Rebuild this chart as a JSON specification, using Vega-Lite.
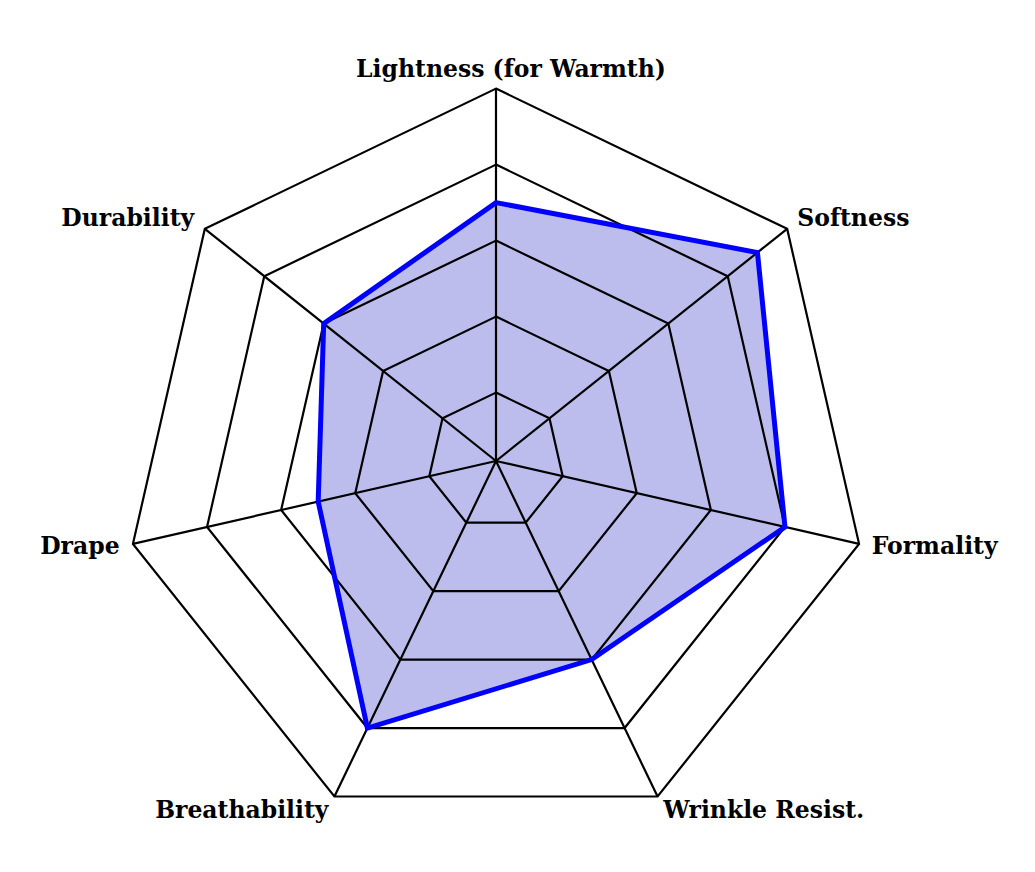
{
  "$schema": "https://vega.github.io/schema/vega-lite/v6.json",
  "width": 1035,
  "height": 872,
  "autosize": "none",
  "padding": 0,
  "background": "white",
  "config": {"view": {"stroke": null}},
  "datasets": {
    "axes": [
      {"axis": "Lightness (for Warmth)", "idx": 0, "value": 3.5},
      {"axis": "Softness", "idx": 1, "value": 4.5},
      {"axis": "Formality", "idx": 2, "value": 4},
      {"axis": "Wrinkle Resist.", "idx": 3, "value": 3},
      {"axis": "Breathability", "idx": 4, "value": 4},
      {"axis": "Drape", "idx": 5, "value": 2.5},
      {"axis": "Durability", "idx": 6, "value": 3}
    ],
    "grid": [
      {"level": 1, "idx": 0}, {"level": 1, "idx": 1}, {"level": 1, "idx": 2}, {"level": 1, "idx": 3}, {"level": 1, "idx": 4}, {"level": 1, "idx": 5}, {"level": 1, "idx": 6},
      {"level": 2, "idx": 0}, {"level": 2, "idx": 1}, {"level": 2, "idx": 2}, {"level": 2, "idx": 3}, {"level": 2, "idx": 4}, {"level": 2, "idx": 5}, {"level": 2, "idx": 6},
      {"level": 3, "idx": 0}, {"level": 3, "idx": 1}, {"level": 3, "idx": 2}, {"level": 3, "idx": 3}, {"level": 3, "idx": 4}, {"level": 3, "idx": 5}, {"level": 3, "idx": 6},
      {"level": 4, "idx": 0}, {"level": 4, "idx": 1}, {"level": 4, "idx": 2}, {"level": 4, "idx": 3}, {"level": 4, "idx": 4}, {"level": 4, "idx": 5}, {"level": 4, "idx": 6},
      {"level": 5, "idx": 0}, {"level": 5, "idx": 1}, {"level": 5, "idx": 2}, {"level": 5, "idx": 3}, {"level": 5, "idx": 4}, {"level": 5, "idx": 5}, {"level": 5, "idx": 6}
    ]
  },
  "layer": [
    {
      "data": {"name": "axes"},
      "transform": [
        {"calculate": "2 * PI * datum.idx / 7", "as": "theta"},
        {"calculate": "(datum.value - 0.1) * sin(datum.theta)", "as": "px"},
        {"calculate": "(datum.value - 0.1) * cos(datum.theta)", "as": "py"}
      ],
      "mark": {"type": "line", "interpolate": "linear-closed", "fill": "#bdbded", "strokeOpacity": 0},
      "encoding": {
        "x": {"field": "px", "type": "quantitative", "scale": {"domain": [-6.5263, 7.0921], "nice": false, "zero": false}, "axis": null},
        "y": {"field": "py", "type": "quantitative", "scale": {"domain": [-5.4079, 6.0658], "nice": false, "zero": false}, "axis": null},
        "order": {"field": "idx"}
      }
    },
    {
      "data": {"name": "grid"},
      "transform": [
        {"calculate": "2 * PI * datum.idx / 7", "as": "theta"},
        {"calculate": "(datum.level - 0.1) * sin(datum.theta)", "as": "px"},
        {"calculate": "(datum.level - 0.1) * cos(datum.theta)", "as": "py"}
      ],
      "mark": {"type": "line", "interpolate": "linear-closed", "color": "black", "strokeWidth": 2.2, "strokeJoin": "miter"},
      "encoding": {
        "x": {"field": "px", "type": "quantitative", "scale": {"domain": [-6.5263, 7.0921], "nice": false, "zero": false}, "axis": null},
        "y": {"field": "py", "type": "quantitative", "scale": {"domain": [-5.4079, 6.0658], "nice": false, "zero": false}, "axis": null},
        "detail": {"field": "level"},
        "order": {"field": "idx"}
      }
    },
    {
      "data": {"name": "axes"},
      "transform": [
        {"calculate": "2 * PI * datum.idx / 7", "as": "theta"},
        {"calculate": "4.9 * sin(datum.theta)", "as": "px"},
        {"calculate": "4.9 * cos(datum.theta)", "as": "py"}
      ],
      "mark": {"type": "rule", "color": "black", "strokeWidth": 2.2},
      "encoding": {
        "x": {"field": "px", "type": "quantitative", "scale": {"domain": [-6.5263, 7.0921], "nice": false, "zero": false}, "axis": null},
        "y": {"field": "py", "type": "quantitative", "scale": {"domain": [-5.4079, 6.0658], "nice": false, "zero": false}, "axis": null},
        "x2": {"datum": 0},
        "y2": {"datum": 0}
      }
    },
    {
      "data": {"name": "axes"},
      "transform": [
        {"calculate": "2 * PI * datum.idx / 7", "as": "theta"},
        {"calculate": "(datum.value - 0.1) * sin(datum.theta)", "as": "px"},
        {"calculate": "(datum.value - 0.1) * cos(datum.theta)", "as": "py"}
      ],
      "mark": {"type": "line", "interpolate": "linear-closed", "color": "#0000ff", "strokeWidth": 5, "strokeJoin": "miter"},
      "encoding": {
        "x": {"field": "px", "type": "quantitative", "scale": {"domain": [-6.5263, 7.0921], "nice": false, "zero": false}, "axis": null},
        "y": {"field": "py", "type": "quantitative", "scale": {"domain": [-5.4079, 6.0658], "nice": false, "zero": false}, "axis": null},
        "order": {"field": "idx"}
      }
    },
    {
      "data": {"name": "axes"},
      "transform": [
        {"filter": "datum.idx == 0"},
        {"calculate": "2 * PI * datum.idx / 7", "as": "theta"},
        {"calculate": "5.15 * sin(datum.theta)", "as": "px"},
        {"calculate": "5.15 * cos(datum.theta)", "as": "py"}
      ],
      "mark": {"type": "text", "align": "center", "baseline": "middle", "dx": 15, "font": "DejaVu Serif", "fontWeight": "bold", "fontSize": 23.5, "color": "black"},
      "encoding": {
        "x": {"field": "px", "type": "quantitative", "scale": {"domain": [-6.5263, 7.0921], "nice": false, "zero": false}, "axis": null},
        "y": {"field": "py", "type": "quantitative", "scale": {"domain": [-5.4079, 6.0658], "nice": false, "zero": false}, "axis": null},
        "text": {"field": "axis"}
      }
    },
    {
      "data": {"name": "axes"},
      "transform": [
        {"filter": "datum.idx >= 1 && datum.idx <= 3"},
        {"calculate": "2 * PI * datum.idx / 7", "as": "theta"},
        {"calculate": "5.07 * sin(datum.theta)", "as": "px"},
        {"calculate": "5.11 * cos(datum.theta)", "as": "py"}
      ],
      "mark": {"type": "text", "align": "left", "baseline": "middle", "font": "DejaVu Serif", "fontWeight": "bold", "fontSize": 23.5, "color": "black"},
      "encoding": {
        "x": {"field": "px", "type": "quantitative", "scale": {"domain": [-6.5263, 7.0921], "nice": false, "zero": false}, "axis": null},
        "y": {"field": "py", "type": "quantitative", "scale": {"domain": [-5.4079, 6.0658], "nice": false, "zero": false}, "axis": null},
        "text": {"field": "axis"}
      }
    },
    {
      "data": {"name": "axes"},
      "transform": [
        {"filter": "datum.idx >= 4"},
        {"calculate": "2 * PI * datum.idx / 7", "as": "theta"},
        {"calculate": "5.08 * sin(datum.theta)", "as": "px"},
        {"calculate": "5.11 * cos(datum.theta)", "as": "py"}
      ],
      "mark": {"type": "text", "align": "right", "baseline": "middle", "font": "DejaVu Serif", "fontWeight": "bold", "fontSize": 23.5, "color": "black"},
      "encoding": {
        "x": {"field": "px", "type": "quantitative", "scale": {"domain": [-6.5263, 7.0921], "nice": false, "zero": false}, "axis": null},
        "y": {"field": "py", "type": "quantitative", "scale": {"domain": [-5.4079, 6.0658], "nice": false, "zero": false}, "axis": null},
        "text": {"field": "axis"}
      }
    }
  ]
}
